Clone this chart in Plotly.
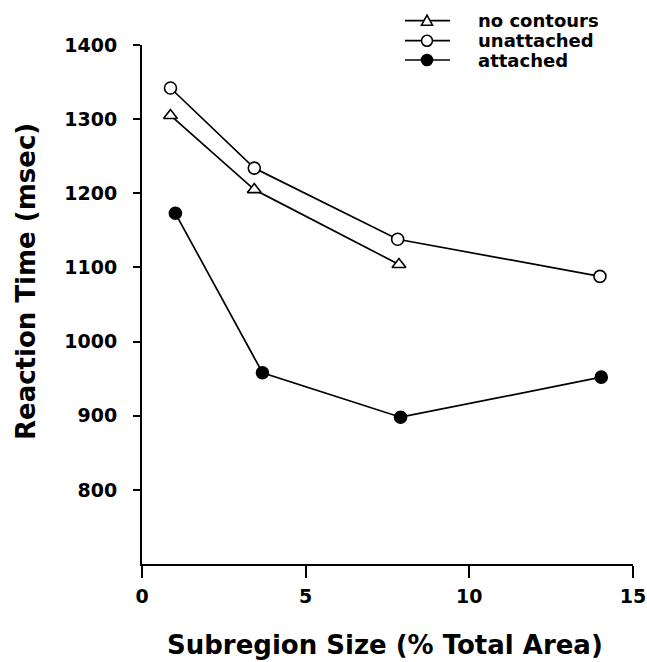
import plotly.graph_objects as go

# ---- data ----
size_no_contours = [0.87, 3.43, 7.85]
rt_no_contours = [1305, 1205, 1104]

size_unattached = [0.87, 3.43, 7.81, 13.99]
rt_unattached = [1342, 1234, 1138, 1088]

size_attached = [1.02, 3.68, 7.90, 14.03]
rt_attached = [1173, 958, 898, 952]

series_names = ["no contours", "unattached", "attached"]
x_ticks = [0, 5, 10, 15]
y_ticks = [800, 900, 1000, 1100, 1200, 1300, 1400]

FONT = "DejaVu Sans, Verdana, sans-serif"
W, H = 647, 662
ML, MR, MT, MB = 142, 14, 45, 98
PW, PH = W - ML - MR, H - MT - MB


def px_x(px):
    return (px - ML) / PW


def px_y(py):
    return (H - MB - py) / PH


fig = go.Figure()
line_style = dict(color="black", width=1.7)
fig.add_trace(go.Scatter(
    x=size_no_contours, y=rt_no_contours, name=series_names[0], mode="lines+markers",
    line=line_style,
    marker=dict(symbol="triangle-up", size=12, color="white", line=dict(color="black", width=1.6)),
))
fig.add_trace(go.Scatter(
    x=size_unattached, y=rt_unattached, name=series_names[1], mode="lines+markers",
    line=line_style,
    marker=dict(symbol="circle", size=12, color="white", line=dict(color="black", width=1.6)),
))
fig.add_trace(go.Scatter(
    x=size_attached, y=rt_attached, name=series_names[2], mode="lines+markers",
    line=line_style,
    marker=dict(symbol="circle", size=12, color="black", line=dict(color="black", width=1.6)),
))

# ---- hand-made legend (key line + symbol + label) ----
shapes = []
annotations = []
legend_rows = [20.7, 40.7, 60.0]
for name, row in zip(series_names, legend_rows):
    yy = px_y(row)
    shapes.append(dict(type="line", xref="paper", yref="paper",
                       x0=px_x(405), x1=px_x(450), y0=yy, y1=yy,
                       line=dict(color="black", width=1.7)))
    if name == "no contours":
        shapes.append(dict(type="path", xref="paper", yref="paper",
                           xsizemode="pixel", ysizemode="pixel",
                           xanchor=px_x(427), yanchor=yy,
                           path="M -5.5 -4.5 L 5.5 -4.5 L 0 5.5 Z",
                           fillcolor="white", line=dict(color="black", width=1.6)))
    else:
        fill = "white" if name == "unattached" else "black"
        shapes.append(dict(type="circle", xref="paper", yref="paper",
                           xsizemode="pixel", ysizemode="pixel",
                           xanchor=px_x(427), yanchor=yy,
                           x0=-5.5, x1=5.5, y0=-5.5, y1=5.5,
                           fillcolor=fill, line=dict(color="black", width=1.6)))
    annotations.append(dict(text=name, xref="paper", yref="paper",
                            x=px_x(476), y=yy, xanchor="left", yanchor="middle",
                            showarrow=False,
                            font=dict(family=FONT, size=18, weight="bold", color="black")))

# axis titles
annotations.append(dict(text="Subregion Size (% Total Area)", xref="paper", yref="paper",
                        x=px_x(385), y=px_y(661), xanchor="center", yanchor="bottom",
                        showarrow=False, borderpad=0,
                        font=dict(family=FONT, size=26, weight="bold", color="black")))
annotations.append(dict(text="Reaction Time (msec)", xref="paper", yref="paper",
                        x=px_x(26), y=px_y(282), xanchor="center", yanchor="middle",
                        textangle=-90, showarrow=False,
                        font=dict(family=FONT, size=26, weight="bold", color="black")))

fig.update_layout(
    width=W, height=H,
    margin=dict(l=ML, r=MR, t=MT, b=MB, autoexpand=False),
    paper_bgcolor="white", plot_bgcolor="white",
    font=dict(family=FONT, color="black"),
    showlegend=False,
    shapes=shapes,
    annotations=annotations,
    xaxis=dict(
        range=[0, 15], tickvals=x_ticks, ticktext=[str(v) for v in x_ticks],
        showline=True, linecolor="black", linewidth=2,
        ticks="outside", ticklen=12, tickwidth=2, tickcolor="black",
        showgrid=False, zeroline=False, automargin=False,
        tickfont=dict(family=FONT, size=19, weight="bold", color="black"),
        ticklabelstandoff=2,
    ),
    yaxis=dict(
        range=[700, 1400], tickvals=y_ticks, ticktext=[str(v) for v in y_ticks],
        showline=True, linecolor="black", linewidth=2,
        ticks="outside", ticklen=7, tickwidth=2, tickcolor="black",
        showgrid=False, zeroline=False, automargin=False,
        tickfont=dict(family=FONT, size=19, weight="bold", color="black"),
        ticklabelstandoff=12,
    ),
)

fig.write_html("out.html")
